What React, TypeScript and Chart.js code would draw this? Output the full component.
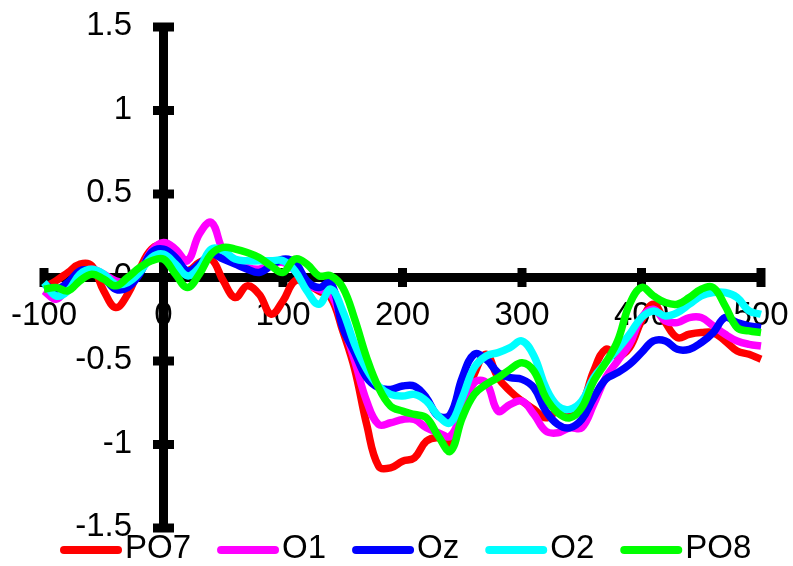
import React, { useEffect, useRef } from "react";
import { Chart, registerables } from "chart.js";

Chart.register(...registerables);

// Time (ms)
const times = [
  -100, -90, -80, -70, -60, -50, -40, -30, -20, -10,
  0, 10, 20, 30, 40, 50, 60, 70, 80, 90,
  100, 110, 120, 130, 140, 150, 160, 170, 180, 190,
  200, 210, 220, 230, 240, 250, 260, 270, 280, 290,
  300, 310, 320, 330, 340, 350, 360, 370, 380, 390,
  400, 410, 420, 430, 440, 450, 460, 470, 480, 490, 500,
];

const PO7 = [
  -0.06, -0.02, 0.03, 0.08, 0.07, -0.08, -0.18, -0.1, 0.05, 0.17,
  0.19, 0.08, 0.04, 0.09, 0.11, -0.02, -0.12, -0.05, -0.1, -0.22,
  -0.14, -0.02, -0.04, -0.08, -0.12, -0.32, -0.55, -0.88, -1.13, -1.14,
  -1.1, -1.08, -0.98, -0.96, -0.99, -0.8, -0.58, -0.46, -0.6, -0.68,
  -0.74, -0.79, -0.84, -0.8, -0.82, -0.76, -0.56, -0.43, -0.47, -0.42,
  -0.26, -0.16, -0.27, -0.36, -0.34, -0.33, -0.33, -0.38, -0.44, -0.46, -0.49,
];

const O1 = [
  -0.08, -0.13, -0.06, 0.02, 0.05, 0.02, -0.02, -0.03, 0.03, 0.16,
  0.21, 0.17, 0.1, 0.26, 0.33, 0.16, 0.09, 0.06, 0.05, 0.08,
  0.09, 0.04, -0.04, -0.07, -0.1, -0.28, -0.5, -0.74, -0.88, -0.87,
  -0.85, -0.85, -0.9, -0.93, -0.95, -0.8, -0.63, -0.63, -0.8, -0.76,
  -0.74, -0.82, -0.92, -0.93, -0.9, -0.9, -0.76, -0.6, -0.5, -0.4,
  -0.24, -0.19, -0.26, -0.27, -0.24, -0.24, -0.29, -0.34, -0.38, -0.4, -0.41,
];

const Oz = [
  -0.04, -0.07, -0.03, 0.04, 0.04, 0.0, -0.07, -0.06, 0.02, 0.15,
  0.17, 0.12, 0.04, 0.08, 0.14, 0.11, 0.08, 0.05, 0.03, 0.07,
  0.11, 0.09, -0.02, -0.06, -0.03, -0.3, -0.45, -0.6, -0.66, -0.67,
  -0.65, -0.65, -0.72, -0.83, -0.82, -0.6, -0.46, -0.49, -0.57, -0.6,
  -0.61, -0.66, -0.8, -0.88, -0.9, -0.85, -0.72, -0.61, -0.57, -0.52,
  -0.45, -0.38, -0.38, -0.43, -0.43, -0.39, -0.33, -0.24, -0.27, -0.29, -0.3,
];

const O2 = [
  -0.03, -0.11, -0.08, 0.02, 0.05, 0.02, -0.04, -0.03, 0.03, 0.12,
  0.14, 0.08, 0.01, 0.06, 0.17, 0.16, 0.11, 0.1, 0.1, 0.1,
  0.1, 0.04, -0.08, -0.16, -0.07, -0.2, -0.4, -0.55, -0.65, -0.7,
  -0.71, -0.7, -0.74, -0.83, -0.87, -0.72, -0.54, -0.47, -0.45, -0.42,
  -0.38, -0.47, -0.66, -0.77, -0.79, -0.74, -0.6, -0.51, -0.43, -0.34,
  -0.24, -0.2, -0.23, -0.21, -0.16, -0.11, -0.09, -0.09, -0.12, -0.2, -0.22,
];

const PO8 = [
  -0.07, -0.06, -0.08, -0.02, 0.02, -0.01, -0.05, 0.0, 0.06, 0.1,
  0.11, 0.02, -0.06, 0.02, 0.14, 0.18, 0.17, 0.15, 0.12, 0.07,
  0.03, 0.11, 0.08, 0.01, 0.01, -0.06, -0.25, -0.48, -0.66, -0.77,
  -0.8, -0.82, -0.84, -0.95, -1.04, -0.84, -0.7, -0.64, -0.6, -0.55,
  -0.51, -0.56, -0.72, -0.81, -0.84, -0.78, -0.62, -0.51, -0.38, -0.16,
  -0.06, -0.11, -0.15, -0.16, -0.12, -0.07, -0.06, -0.17, -0.3, -0.32, -0.33,
];

const seriesNames = ["PO7", "O1", "Oz", "O2", "PO8"];
const seriesValues = [PO7, O1, Oz, O2, PO8];
const seriesColors = ["#FF0000", "#FF00FF", "#0000FF", "#00FFFF", "#00FF00"];

const xTicks = [-100, 0, 100, 200, 300, 400, 500];
const yTicks = [-1.5, -1, -0.5, 0, 0.5, 1, 1.5];

const FONT = '"Liberation Sans", Arial, Helvetica, sans-serif';

const zeroPadding = (s: any) => {
  s.paddingLeft = 0;
  s.paddingRight = 0;
  s.paddingTop = 0;
  s.paddingBottom = 0;
};

const crossAxesPlugin = {
  id: "crossAxes",
  beforeDatasetsDraw(chart: any) {
    const { ctx, scales } = chart;
    const xs = scales.x;
    const ys = scales.y;
    const y0 = ys.getPixelForValue(0);
    const x0 = xs.getPixelForValue(0);
    ctx.save();
    ctx.fillStyle = "#000";
    xs.ticks.forEach((t: any) => {
      const px = xs.getPixelForValue(t.value);
      ctx.fillRect(px - 4.5, y0 - 9.5, 9, 19);
    });
    ys.ticks.forEach((t: any) => {
      const py = ys.getPixelForValue(t.value);
      ctx.fillRect(x0 - 10.5, py - 4.5, 21, 9);
    });
    // y-axis tick labels, left of the crossing axis
    ctx.font = `33px ${FONT}`;
    ctx.textAlign = "right";
    ctx.textBaseline = "middle";
    ys.ticks.forEach((t: any) => {
      const py = ys.getPixelForValue(t.value);
      ctx.fillText(String(t.value), x0 - 31.5, py - 1);
    });
    ctx.restore();
  },
};

const legendPlugin = {
  id: "bottomLegend",
  afterDraw(chart: any) {
    const { ctx } = chart;
    ctx.save();
    ctx.font = `33px ${FONT}`;
    ctx.textBaseline = "middle";
    ctx.textAlign = "left";
    let x = 60;
    const yLine = 550;
    chart.data.datasets.forEach((ds: any) => {
      ctx.strokeStyle = ds.borderColor;
      ctx.lineWidth = 8;
      ctx.lineCap = "round";
      ctx.beginPath();
      ctx.moveTo(x + 4, yLine);
      ctx.lineTo(x + 58, yLine);
      ctx.stroke();
      ctx.fillStyle = "#000";
      ctx.fillText(ds.label, x + 65, yLine - 1);
      x += 65 + ctx.measureText(ds.label).width + 26;
    });
    ctx.restore();
  },
};

export default function App() {
  const canvasRef = useRef<HTMLCanvasElement | null>(null);

  useEffect(() => {
    const canvas = canvasRef.current;
    if (!canvas) return;
    const datasets = seriesNames.map((name, i) => ({
      label: name,
      data: times.map((t, j) => ({ x: t, y: seriesValues[i][j] })),
      borderColor: seriesColors[i],
      backgroundColor: seriesColors[i],
      borderWidth: 7.5,
      pointRadius: 0,
      tension: 0.4,
      fill: false,
      clip: false as any,
      order: seriesNames.length - i,
    }));

    const chart = new Chart(canvas, {
      type: "line",
      data: { datasets },
      plugins: [crossAxesPlugin, legendPlugin],
      options: {
        animation: false,
        responsive: false,
        maintainAspectRatio: false,
        layout: { padding: { left: 44, right: 32, top: 27, bottom: 38 } },
        plugins: {
          legend: { display: false },
          tooltip: { enabled: false },
        },
        scales: {
          x: {
            type: "linear",
            min: -100,
            max: 500,
            position: { y: 0 } as any,
            afterBuildTicks: (s: any) => {
              s.ticks = xTicks.map((v) => ({ value: v }));
            },
            afterFit: zeroPadding,
            grid: { display: true, drawOnChartArea: false, drawTicks: false },
            border: { display: true, color: "#000", width: 9 },
            ticks: {
              padding: 19,
              color: "#000",
              font: { family: FONT, size: 33 },
              maxRotation: 0,
              autoSkip: false,
              callback: (v: any) => String(v),
            },
          },
          y: {
            type: "linear",
            min: -1.5,
            max: 1.5,
            position: { x: 0 } as any,
            afterBuildTicks: (s: any) => {
              s.ticks = yTicks.map((v) => ({ value: v }));
            },
            afterFit: zeroPadding,
            grid: { display: true, drawOnChartArea: false, drawTicks: false },
            border: { display: true, color: "#000", width: 9 },
            ticks: {
              display: false,
              autoSkip: false,
            },
          },
        },
      },
    });
    return () => chart.destroy();
  }, []);

  return (
    <div style={{ position: "fixed", left: 0, top: 0, width: 793, height: 566, background: "#fff" }}>
      <canvas ref={canvasRef} width={793} height={566} style={{ display: "block" }} />
    </div>
  );
}
